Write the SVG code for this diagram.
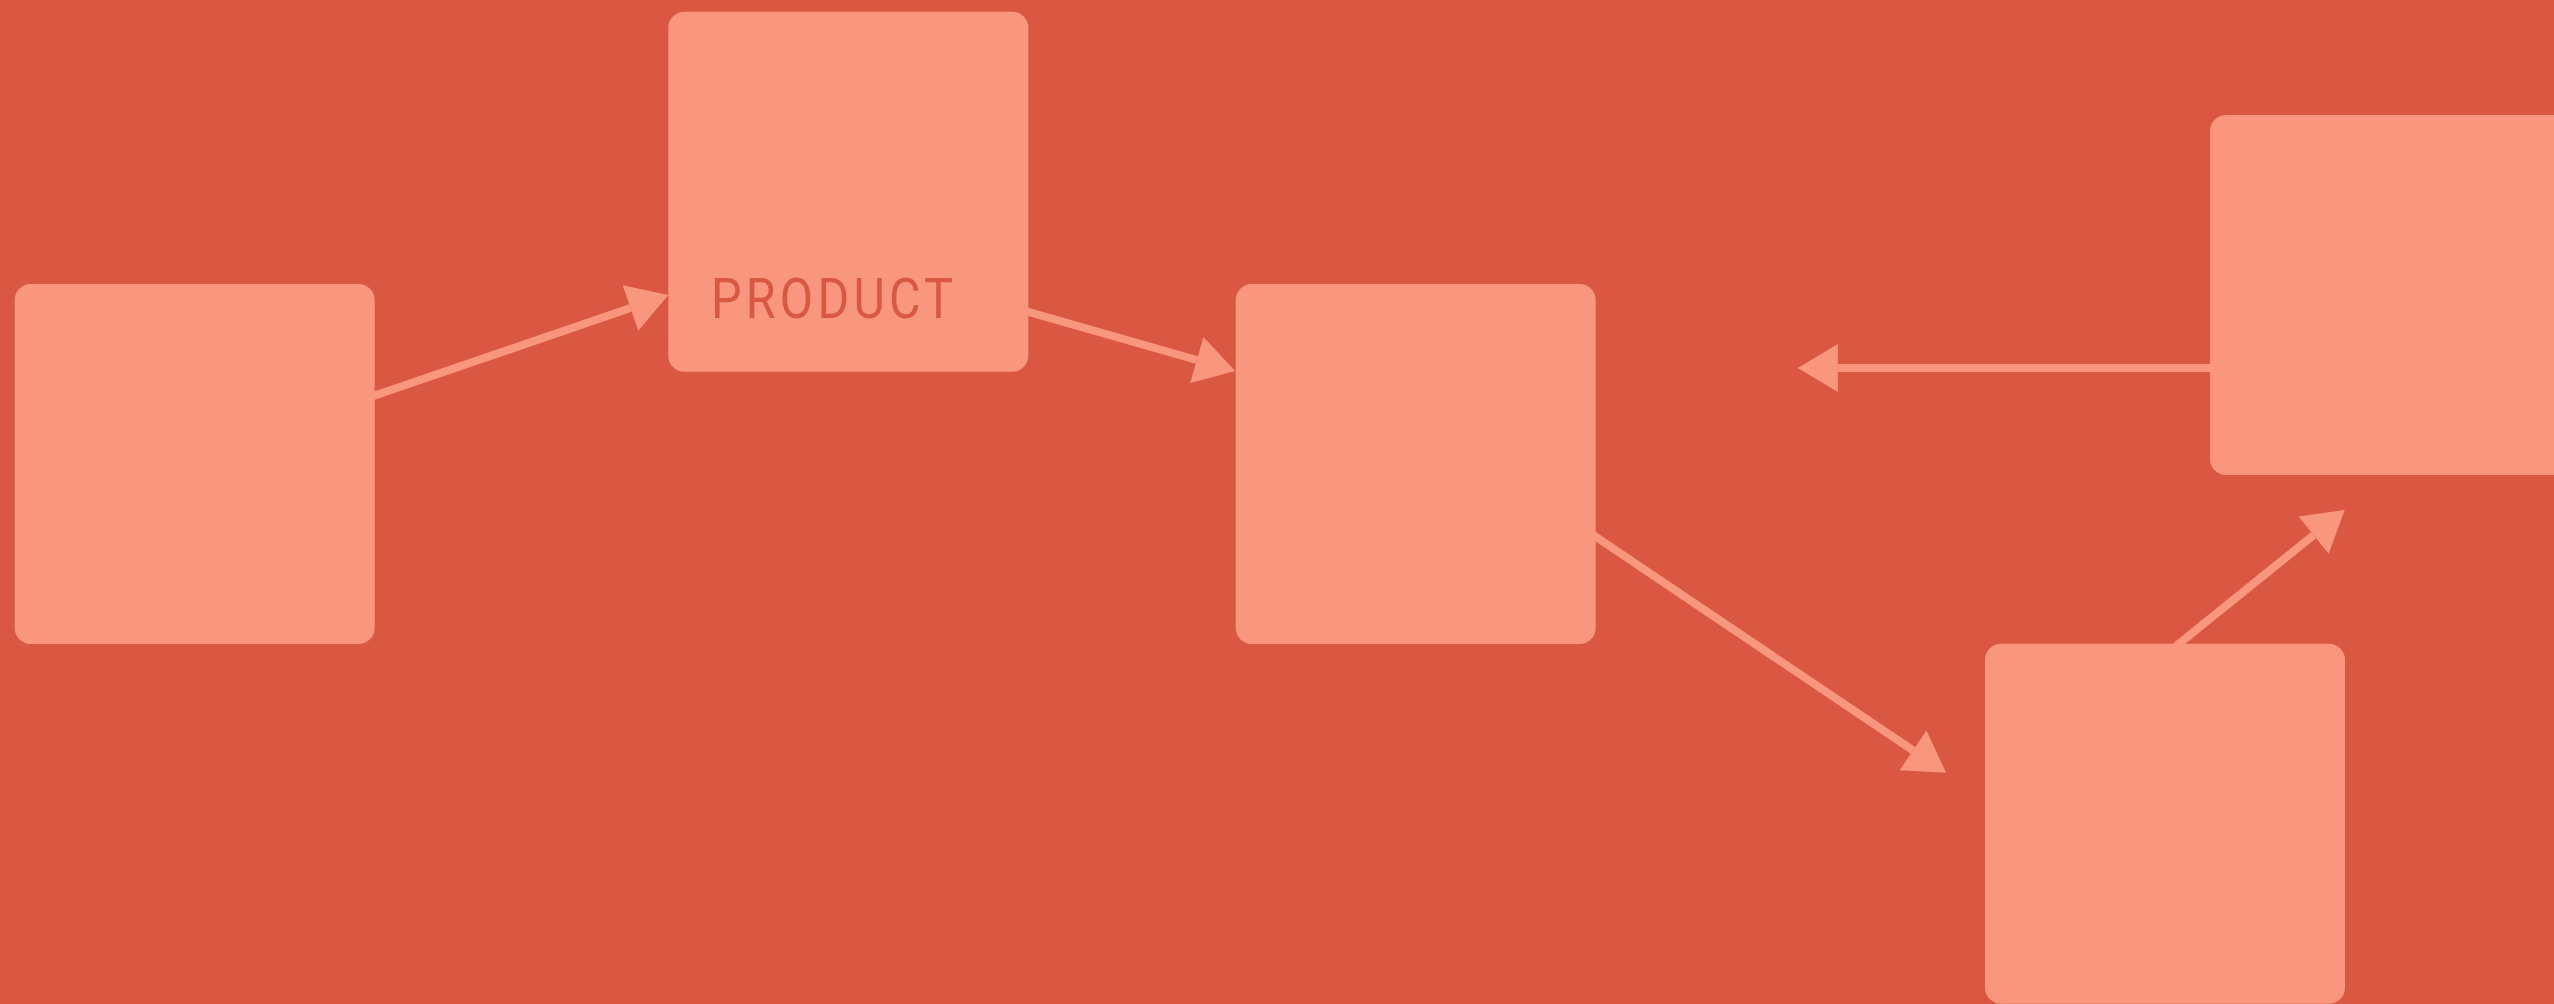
<svg xmlns="http://www.w3.org/2000/svg" width="2554" height="1004" viewBox="0 0 2554 1004">
  <style>
    .node { fill: #F8977E; }
    .conn { stroke: #F8977E; stroke-width: 8; fill: none; marker-end: url(#arrow); }
    .label { font-family: Roboto, "Liberation Sans", sans-serif; font-size: 55px; font-weight: 400; fill: #DA5841; }
  </style>
  <defs>
    <marker id="arrow" markerUnits="userSpaceOnUse" markerWidth="40" markerHeight="48" viewBox="0 0 40 48" refX="0" refY="24" orient="auto" overflow="visible">
      <path d="M0,0 L40,24 L0,48 Z" fill="#F8977E"/>
    </marker>
  </defs>
  <rect x="0" y="0" width="2554" height="1004" fill="#DA5841"/>
  <g id="connectors">
    <line class="conn" x1="355.8" y1="402.0" x2="630.5" y2="308.0"/>
    <line class="conn" x1="1009.4" y1="306.5" x2="1196.8" y2="360.0"/>
    <line class="conn" x1="2230" y1="368" x2="1837.8" y2="368"/>
    <line class="conn" x1="1579.1" y1="525.5" x2="1913.0" y2="750.4"/>
    <line class="conn" x1="2163.3" y1="656.3" x2="2313.6" y2="535.1"/>
  </g>
  <g id="node-a">
    <rect class="node" x="14.7" y="284" width="360" height="360" rx="16"/>
  </g>
  <g id="node-product">
    <rect class="node" x="668.3" y="11.7" width="360" height="360" rx="16"/>
    <text class="label" transform="translate(711,318) scale(0.88,1)" x="0" y="0" textLength="275" lengthAdjust="spacing">PRODUCT</text>
  </g>
  <g id="node-c">
    <rect class="node" x="1235.7" y="284" width="360" height="360" rx="16"/>
  </g>
  <g id="node-d">
    <rect class="node" x="2210" y="115" width="360" height="360" rx="16"/>
  </g>
  <g id="node-e">
    <rect class="node" x="1985" y="643.7" width="360" height="360" rx="16"/>
  </g>
</svg>
